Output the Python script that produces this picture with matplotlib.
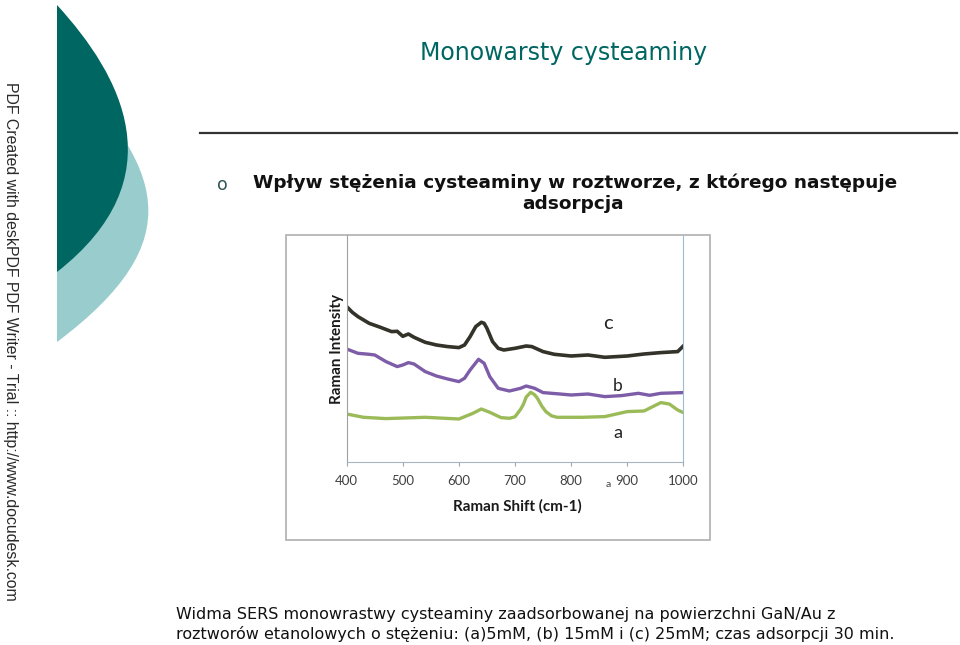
import numpy as np
import matplotlib
matplotlib.use('Agg')
import matplotlib.pyplot as plt
from matplotlib.patches import PathPatch, Rectangle
from matplotlib.path import Path

# Raman spectra (x in cm-1, intensity in arbitrary units)
shift_c = [400, 410, 420, 440, 460, 480, 490, 500, 510, 520, 540, 560, 580, 600, 610, 620, 630, 640,
           645, 650, 660, 670, 680, 700, 720, 730, 750, 770, 800, 830, 860, 900, 930, 960, 990, 1000]
inten_c = [155.7, 150, 145.7, 139, 135, 130.7, 131, 126, 128.3, 125, 120, 117.3, 115.7, 114.7, 117.3,
           125.7, 135.7, 140, 139, 134, 120.7, 114, 112.3, 114, 116.3, 115.7, 110.7, 108, 106.3, 107.3,
           105, 106.3, 108.3, 109.7, 110.7, 116.3]

shift_b = [400, 420, 440, 450, 470, 490, 500, 510, 520, 540, 560, 580, 600, 610, 620, 635, 645, 655,
           670, 690, 710, 720, 735, 750, 780, 800, 830, 860, 890, 920, 940, 960, 1000]
inten_b = [113.3, 109, 108, 107.3, 100.7, 95.7, 97.3, 99.7, 98.3, 90.7, 86.3, 83.3, 80.7, 84, 92.3,
           103, 99, 85.7, 74, 71.3, 74, 76.3, 74, 69.7, 68.3, 67.3, 68.3, 65.7, 66.7, 69, 67, 69, 69.7]

shift_a = [400, 430, 470, 540, 600, 625, 640, 655, 675, 690, 700, 710, 715, 720, 728, 735, 740, 748,
           755, 765, 775, 820, 860, 900, 930, 960, 975, 990, 1000]
inten_a = [48.3, 45, 43.7, 45, 43.3, 49, 53.3, 50, 44.7, 44, 45.5, 53, 58, 65.3, 70, 67.5, 64, 56,
           50.7, 46.5, 45, 45, 45.7, 50.7, 51.3, 59.7, 58.3, 52.3, 49.7]

x_ticks = [400, 500, 600, 700, 800, 900, 1000]
series_labels = ['c', 'b', 'a']

teal_dark = '#006661'
teal_light = '#99cccc'

fig = plt.figure(figsize=(9.6, 6.45), dpi=100)

# slide background in pixel coordinates
bg = fig.add_axes([0, 0, 1, 1])
bg.set_xlim(0, 960)
bg.set_ylim(645, 0)
bg.axis('off')


def lens(p0, p1, p2, p3):
    verts = [p0, p1, p2, p3, p0]
    codes = [Path.MOVETO, Path.CURVE4, Path.CURVE4, Path.CURVE4, Path.LINETO]
    return Path(verts, codes)


bg.add_patch(PathPatch(lens((57, 60), (164, 167), (192.7, 240.2), (57, 342)), fc=teal_light, ec='none'))
bg.add_patch(PathPatch(lens((57, 5), (122, 76), (177, 178), (57, 272)), fc=teal_dark, ec='none'))

bg.text(10, 341, 'PDF Created with deskPDF PDF Writer - Trial :: http://www.docudesk.com',
        rotation=-90, ha='center', va='center', fontsize=11.4, family='Liberation Sans', color='#2a2a2a')

bg.text(564, 60, 'Monowarsty cysteaminy', ha='center', va='baseline', fontsize=17,
        family='DejaVu Sans', color=teal_dark)
bg.plot([200, 957], [133, 133], color='#333333', lw=1.6)

bg.text(222, 185, 'o', ha='center', va='center', fontsize=12.5, color='#2f5555')
bg.text(253, 183, 'Wpływ stężenia cysteaminy w roztworze, z którego następuje', ha='left', va='center',
        fontsize=13.3, fontweight='bold', family='DejaVu Sans', color='#111111')
bg.text(573, 204, 'adsorpcja', ha='center', va='center', fontsize=13.3, fontweight='bold',
        family='DejaVu Sans', color='#111111')

bg.text(176, 614, 'Widma SERS monowrastwy cysteaminy zaadsorbowanej na powierzchni GaN/Au z',
        ha='left', va='center', fontsize=11.5, family='DejaVu Sans', color='#111111')
bg.text(176, 634, 'roztworów etanolowych o stężeniu: (a)5mM, (b) 15mM i (c) 25mM; czas adsorpcji 30 min.',
        ha='left', va='center', fontsize=11.55, family='DejaVu Sans', color='#111111')

# chart picture frame
bg.add_patch(Rectangle((286, 235), 424, 305, fc='white', ec='#b5b5b5', lw=1.3))

ax = fig.add_axes([346.7 / 960, 1 - 462.3 / 645, 336.6 / 960, 227.3 / 645])
ax.set_facecolor('none')
ax.plot(shift_c, inten_c, color='#33332a', lw=2.6)
ax.plot(shift_b, inten_b, color='#7d5ca8', lw=2.4)
ax.plot(shift_a, inten_a, color='#9bbb59', lw=2.4)

ax.text(866, 139, series_labels[0], ha='center', va='center', fontsize=14.5, family='Lato', color='#222222')
ax.text(883, 76, series_labels[1], ha='center', va='center', fontsize=12.5, family='Lato', color='#222222')
ax.text(884, 29, series_labels[2], ha='center', va='center', fontsize=13, family='Lato', color='#222222')
ax.text(866, -22, 'a', ha='center', va='center', fontsize=7.5, family='Lato', color='#444444')

ax.set_xlim(400, 1000)
ax.set_ylim(0, 227.3)
ax.set_xticks(x_ticks)
ax.set_yticks([])
ax.tick_params(axis='x', length=3, color='#9aa8b8', pad=6, labelsize=9.5, labelcolor='#404040')
for lab in ax.get_xticklabels():
    lab.set_family('Lato')
ax.spines['top'].set_visible(False)
ax.spines['left'].set_color('#a0a0a0')
ax.spines['right'].set_color('#9dbcd2')
ax.spines['bottom'].set_color('#a7b4c4')
ax.set_xlabel('Raman Shift (cm-1)', fontsize=11, fontweight='bold', family='Lato', color='#1a1a1a')
ax.xaxis.set_label_coords(0.506, -0.162)
ax.set_ylabel('Raman Intensity', fontsize=11, fontweight='bold', family='Lato', color='#1a1a1a')
ax.yaxis.set_label_coords(-0.008, 0.5)

fig.savefig('out.png', dpi=100)
